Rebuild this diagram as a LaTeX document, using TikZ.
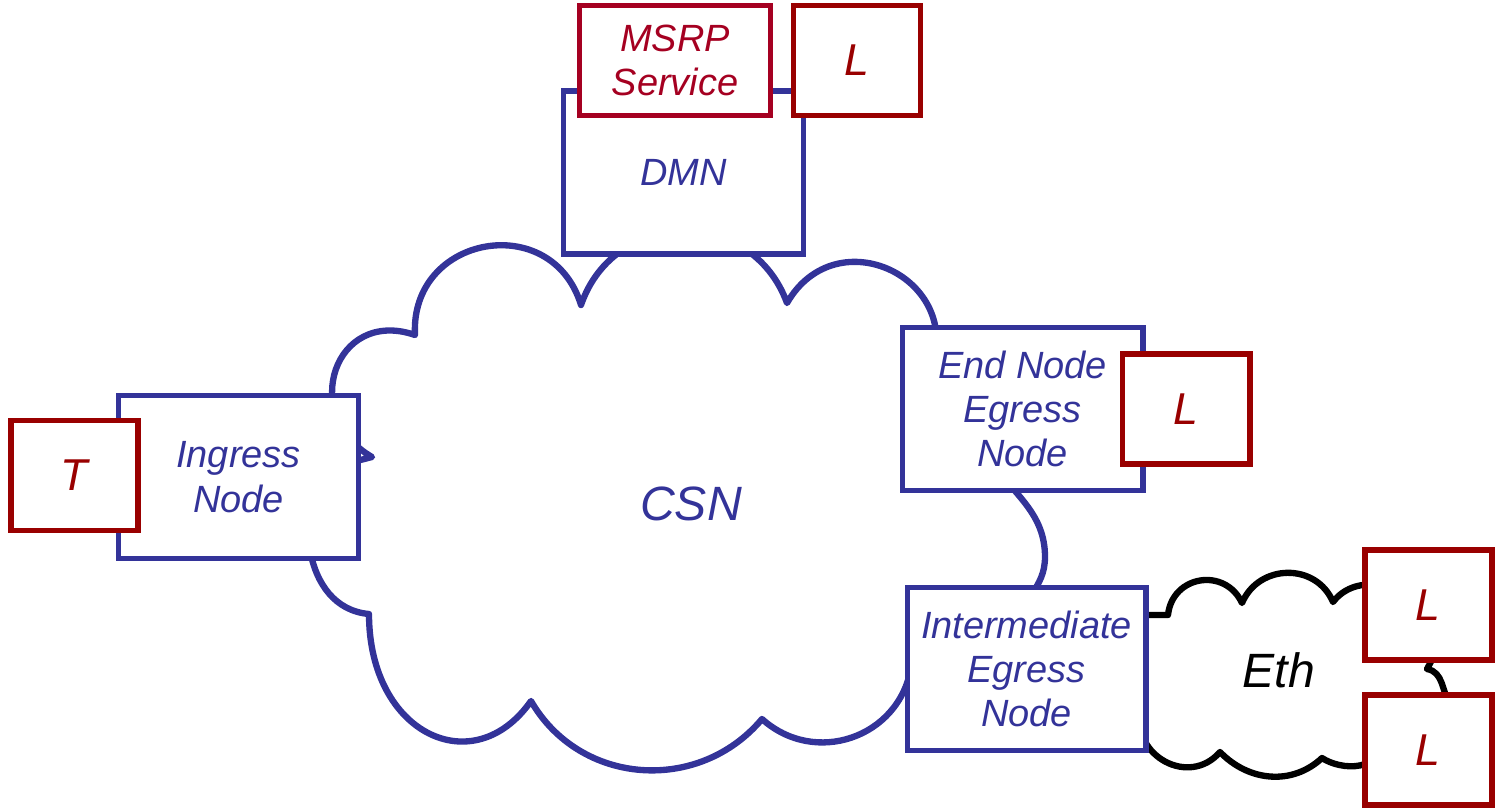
\documentclass[tikz,border=0pt]{standalone}
\usepackage{fontspec}
\setmainfont{Liberation Sans}
\usepackage{tikz}
\definecolor{csnblue}{RGB}{51,51,153}
\definecolor{lred}{RGB}{153,0,0}
\definecolor{msrpred}{RGB}{165,0,33}

\begin{document}
\begin{tikzpicture}[nodebox/.style={rectangle, draw=csnblue, fill=white, line width=1.7pt, minimum width=2.4cm, minimum height=1.63cm, inner sep=0pt, align=center, text=csnblue, font=\fontsize{10.8}{12.6}\selectfont\itshape}, lbox/.style={rectangle, draw=lred, fill=white, line width=1.7pt, minimum width=1.27cm, minimum height=1.1cm, inner sep=0pt, text=lred, font=\fontsize{12.7}{14}\selectfont\itshape}, cloud/.style={line width=1.8pt, line join=round}, big/.style={font=\fontsize{13.7}{16}\selectfont\itshape}]
\useasboundingbox (0,0) rectangle (14.95,-8.11);
\draw [cloud, draw=csnblue] (3.72,-4.57) to[out=150, in=161, distance=0.85cm] (4.15,-3.35) to[out=93, in=107, distance=1.00cm] (5.81,-3.05) to[out=71, in=110, distance=1.03cm] (7.87,-3.03) to[out=60, in=70, distance=0.99cm] (9.31,-3.71) -- (9.90,-4.60) to[out=-55, in=90] (10.45,-5.57) to[out=-90, in=70] (10.10,-6.30) -- (9.11,-6.68) to[out=-100, in=-42, distance=0.71cm] (7.62,-7.19) to[out=-130, in=-60, distance=0.98cm] (5.31,-7.01) to[out=-125, in=-90, out distance=1.0cm, in distance=1.2cm] (3.69,-6.14) to[out=175, in=-80] (3.10,-5.50) -- (3.45,-4.64) -- cycle;
\draw [cloud, draw=black] (11.30,-6.15) -- (11.68,-6.15) to[out=84, in=115, distance=0.40cm] (12.42,-6.03) to[out=67, in=113, distance=0.43cm] (13.33,-6.02) to[out=53, in=150, distance=0.23cm] (13.93,-5.91) -- (14.40,-6.45) -- (14.27,-6.69) to[out=-10, in=120] (14.50,-7.05) -- (13.85,-7.30) .. controls (13.85,-7.75) and (13.40,-7.70) .. (13.22,-7.58) to[out=-137, in=-46, distance=0.41cm] (12.20,-7.52) to[out=-131, in=-100, distance=0.47cm] (11.40,-7.10) -- cycle;
\node (CSN) [big, text=csnblue] at (6.91,-5.04) {CSN};
\node (ETH) [big] at (12.79,-6.70) {Eth};
\node (DMN) [nodebox] at (6.835,-1.725) {DMN};
\node (MSRP) [lbox, draw=msrpred, text=msrpred, minimum width=1.91cm, align=center, font=\fontsize{10.8}{12.6}\selectfont\itshape] at (6.75,-0.605) {MSRP\\Service};
\node (LDMN) [lbox] at (8.57,-0.605) {L};
\node (INGRESS) [nodebox] at (2.385,-4.77) {Ingress\\Node};
\node (T) [lbox] at (0.745,-4.755) {T};
\node (ENDNODE) [nodebox] at (10.225,-4.09) {End Node\\Egress\\Node};
\node (LEND) [lbox] at (11.86,-4.09) {L};
\node (INTER) [nodebox, minimum width=2.38cm] at (10.265,-6.69) {Intermediate\\Egress\\Node};
\node (LETH1) [lbox] at (14.28,-6.05) {L};
\node (LETH2) [lbox] at (14.28,-7.50) {L};
\end{tikzpicture}
\end{document}
